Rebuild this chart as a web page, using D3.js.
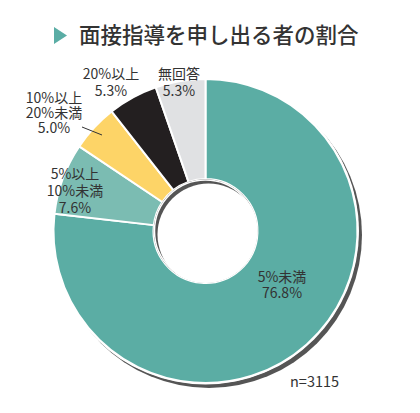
<!DOCTYPE html>
<html><head><meta charset="utf-8">
<script src="https://cdn.jsdelivr.net/npm/d3@7"></script>
<style>body{margin:0;background:#fff}svg{display:block}</style>
</head><body>
<svg id="c" width="420" height="413"></svg>
<script>
const title = "面接指導を申し出る者の割合";
const categories = [["5%未満"], ["5%以上", "10%未満"], ["10%以上", "20%未満"], ["20%以上"], ["無回答"]];
const values = [76.8, 7.6, 5.0, 5.3, 5.3];
const colors = ["#5badA4", "#7bbcb2", "#fdd467", "#231f20", "#e0e1e3"];
const sampleNote = "n=3115";

const svg = d3.select("#c");
const cx = 205.5, cy = 231, R = 152, r0 = 52;
const font = "'Noto Sans CJK JP', 'Noto Sans', sans-serif";
const defs = svg.append("defs");
defs.append("filter").attr("id", "blur").append("feGaussianBlur").attr("stdDeviation", 0.6);
defs.append("clipPath").attr("id", "holeClip").append("circle").attr("cx", cx).attr("cy", cy).attr("r", r0);

// title
svg.append("path").attr("d", d3.line()([[54, 27], [67, 35.5], [54, 44]]) + "Z").attr("fill", "#5aada5");
svg.append("text").attr("x", 79).attr("y", 43).attr("font-family", font).attr("font-size", 21.5)
  .attr("font-weight", 500).attr("fill", "#333").text(title);

// outer shadow
svg.append("circle").attr("cx", cx + 3.5).attr("cy", cy + 4).attr("r", R + 1).attr("fill", "#555").attr("filter", "url(#blur)");
svg.append("circle").attr("cx", cx).attr("cy", cy).attr("r", R + 1.5).attr("fill", "#fff");

const pie = d3.pie().sort(null).value(d => d)(values);
const arc = d3.arc().innerRadius(r0).outerRadius(R);
const g = svg.append("g").attr("transform", `translate(${cx},${cy})`);
g.selectAll("path").data(pie).join("path").attr("d", arc)
  .attr("fill", (d, i) => colors[i]).attr("stroke", "#fff").attr("stroke-width", 2).attr("stroke-linejoin", "round");

// hole inner shadow
const hole = svg.append("g").attr("clip-path", "url(#holeClip)");
hole.append("circle").attr("cx", cx).attr("cy", cy).attr("r", r0).attr("fill", "#555");
hole.append("circle").attr("cx", cx + 3).attr("cy", cy + 3.5).attr("r", r0 - 1).attr("fill", "#fff").attr("filter", "url(#blur)");
svg.append("circle").attr("cx", cx).attr("cy", cy).attr("r", r0 - 1).attr("fill", "none").attr("stroke", "#fff").attr("stroke-width", 1.5);

// labels (first baseline, line gap)
const labelPos = [[282, 282], [75, 179], [54, 103], [111, 79], [179, 79]];
const lineGap = [16, 17, 15, 17, 17];
values.forEach((v, i) => {
  const lines = categories[i].concat([v.toFixed(1) + "%"]);
  const t = svg.append("text").attr("font-family", font).attr("font-size", 14).attr("fill", "#333")
    .attr("text-anchor", "middle");
  lines.forEach((s, j) => {
    t.append("tspan").attr("x", labelPos[i][0]).attr("y", labelPos[i][1] + j * lineGap[i]).text(s);
  });
});
// leader line for 10%以上20%未満
svg.append("line").attr("x1", 82).attr("y1", 127).attr("x2", 102).attr("y2", 135).attr("stroke", "#333").attr("stroke-width", 1);

svg.append("text").attr("x", 290).attr("y", 387).attr("font-family", font).attr("font-size", 14.5).attr("fill", "#333").text(sampleNote);
</script>
</body></html>
